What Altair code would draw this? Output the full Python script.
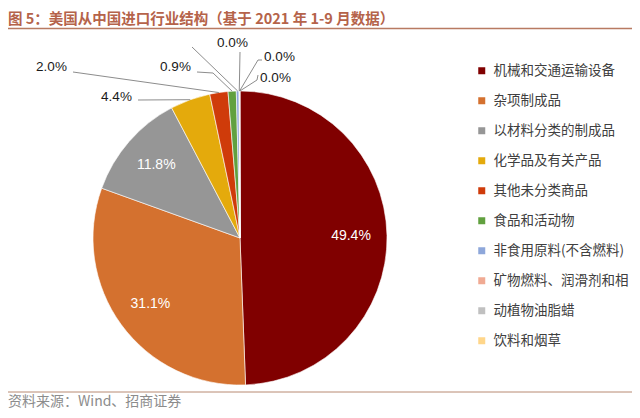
import math
import altair as alt
import pandas as pd

# ---------------- data ----------------
categories = [
    "机械和交通运输设备",
    "杂项制成品",
    "以材料分类的制成品",
    "化学品及有关产品",
    "其他未分类商品",
    "食品和活动物",
    "非食用原料(不含燃料)",
    "矿物燃料、润滑剂和相",
    "动植物油脂蜡",
    "饮料和烟草",
]
shares = [49.4, 31.1, 11.8, 4.4, 2.0, 0.9, 0.3, 0.04, 0.03, 0.03]
label_texts = ["49.4%", "31.1%", "11.8%", "4.4%", "2.0%", "0.9%", "", "0.0%", "0.0%", "0.0%"]
colors = ["#800000", "#D4712F", "#969696", "#E4AA0C", "#CF3B0A",
          "#61A03F", "#8EA7DA", "#F0AA93", "#C0C0C0", "#FFD68A"]

TITLE = "图 5：美国从中国进口行业结构（基于 2021 年 1-9 月数据）"
SOURCE = "资料来源：Wind、招商证券"

# ---------------- layout (pixels in the view) ----------------
W, H = 624, 402
CX, CY, R = 232, 230, 147
INNER_R = 111
FONT_NUM = "Liberation Sans"
FONT_CJK = "Noto Sans CJK SC"

# outside label positions and leader bends (annotation layout)
outside = {
    "化学品及有关产品": {"pos": (108.5, 89), "path": [(130, 92)]},
    "其他未分类商品": {"pos": (43.5, 59), "path": [(65, 64)]},
    "食品和活动物": {"pos": (167.5, 59), "path": [(205, 65), (189, 64)]},
    "非食用原料(不含燃料)": {"pos": (184, 39), "path": [(184, 39)]},
    "矿物燃料、润滑剂和相": {"pos": (224.5, 35), "path": [(232, 44)]},
    "动植物油脂蜡": {"pos": (271.5, 49), "path": [(250, 52), (254, 52)]},
    "饮料和烟草": {"pos": (267.5, 70), "path": [(249, 72), (250, 67)]},
}

# ---------------- derived tables ----------------
total = sum(shares)
df = pd.DataFrame({"cat": categories, "share": shares, "label": label_texts,
                   "idx": list(range(len(categories)))})
cum = df["share"].cumsum()
mid = (cum - df["share"] / 2) / total * 2 * math.pi
df["rim_x"] = CX + R * mid.apply(math.sin)
df["rim_y"] = CY - R * mid.apply(math.cos)

inside_rows, lab_rows, line_rows = [], [], []
for i, row in df.iterrows():
    th = mid[i]
    if row["cat"] in outside:
        lay = outside[row["cat"]]
        lab_rows.append({"label": row["label"], "x": lay["pos"][0], "y": lay["pos"][1]})
        pts = [(row["rim_x"], row["rim_y"])] + lay["path"]
        for k, (px, py) in enumerate(pts):
            line_rows.append({"cat": row["cat"], "o": k, "x": px, "y": py})
    else:
        inside_rows.append({"label": row["label"],
                            "x": CX + INNER_R * math.sin(th),
                            "y": CY - INNER_R * math.cos(th)})

inside_df = pd.DataFrame(inside_rows)
lab_df = pd.DataFrame(lab_rows)
line_df = pd.DataFrame(line_rows)

# ---------------- chart ----------------
pie = alt.Chart(df).mark_arc(stroke="#ffffff", strokeWidth=0.6).encode(
    theta=alt.Theta("share:Q", stack=True),
    order=alt.Order("idx:Q"),
    color=alt.Color(
        "cat:N",
        scale=alt.Scale(domain=categories, range=colors),
        legend=alt.Legend(
            orient="none", legendX=467, legendY=56, title=None,
            symbolType="square", symbolSize=49, symbolStrokeWidth=0,
            labelFont=FONT_CJK, labelFontSize=13.5, labelColor="#404040",
            rowPadding=15, labelOffset=5, padding=0, labelLimit=250,
        ),
    ),
    x=alt.value(CX), y=alt.value(CY), radius=alt.value(R),
)

leaders = alt.Chart(line_df).mark_line(color="#7f7f7f", strokeWidth=0.9).encode(
    x=alt.X("x:Q", scale=None), y=alt.Y("y:Q", scale=None),
    detail="cat:N", order="o:Q",
)

out_labels = alt.Chart(lab_df).mark_text(
    font=FONT_NUM, fontSize=13.5, color="#1a1a1a", align="center", baseline="middle"
).encode(x=alt.X("x:Q", scale=None), y=alt.Y("y:Q", scale=None), text="label:N")

in_labels = alt.Chart(inside_df).mark_text(
    font=FONT_NUM, fontSize=14, color="#ffffff", align="center", baseline="middle"
).encode(x=alt.X("x:Q", scale=None), y=alt.Y("y:Q", scale=None), text="label:N")

one = pd.DataFrame({"t": [TITLE], "s": [SOURCE]})
title = alt.Chart(one).mark_text(
    font=FONT_CJK, fontSize=14.5, fontWeight="bold", color="#B5634A",
    align="left", baseline="alphabetic"
).encode(x=alt.value(0), y=alt.value(16), text="t:N")
top_rule = alt.Chart(one).mark_rule(color="#B87A62", strokeWidth=1.5).encode(
    x=alt.value(0), x2=alt.value(W), y=alt.value(20.5))
bottom_rule = alt.Chart(one).mark_rule(color="#B88A72", strokeWidth=1).encode(
    x=alt.value(0), x2=alt.value(W), y=alt.value(384))
source = alt.Chart(one).mark_text(
    font=FONT_CJK, fontSize=14, color="#8c8c8c", align="left", baseline="alphabetic"
).encode(x=alt.value(0), y=alt.value(398), text="s:N")

chart = alt.layer(pie, leaders, out_labels, in_labels, title, top_rule, bottom_rule, source).properties(
    width=W, height=H, autosize=alt.AutoSizeParams(type="none"), padding=0,
    background="#ffffff",
).configure_view(stroke=None)

chart.save("out.html", embed_options={"renderer": "svg", "actions": False})
